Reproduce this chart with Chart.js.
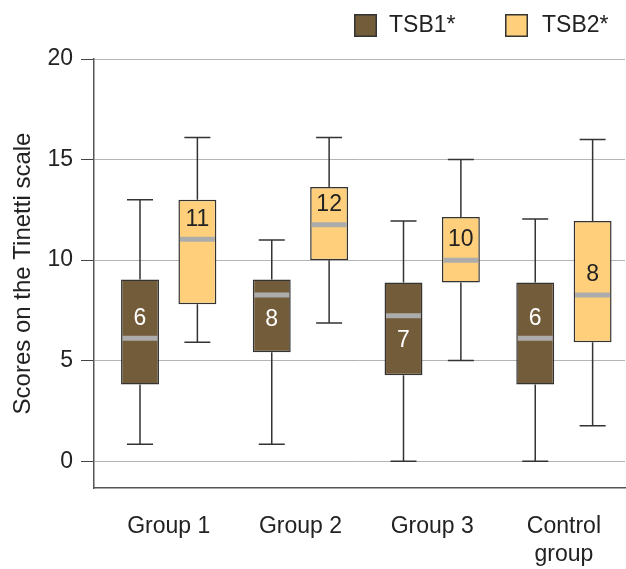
<!DOCTYPE html>
<html>
<head>
<meta charset="utf-8">
<script src="https://cdn.jsdelivr.net/npm/chart.js@4/dist/chart.umd.min.js"></script>
<style>
  html, body { margin: 0; padding: 0; background: #ffffff; }
  #wrap { width: 626px; height: 569px; position: relative; }
</style>
</head>
<body>
<div id="wrap"><canvas id="chart" width="626" height="569"></canvas></div>
<script>
// Groups on the x axis
const categories = [['Group 1'], ['Group 2'], ['Group 3'], ['Control', 'group']];

// Five-number summaries of the Tinetti scores, per group
const tsb1Min    = [0.85, 0.85, 0.0, 0.0];
const tsb1Q1     = [3.82, 5.42, 4.28, 3.82];
const tsb1Median = [6.12, 8.26, 7.23, 6.12];
const tsb1Q3     = [9.04, 9.04, 8.89, 8.89];
const tsb1Max    = [13.0, 11.0, 11.94, 12.04];
const tsb1Means  = [6, 8, 7, 6];

const tsb2Min    = [5.92, 6.88, 5.01, 1.76];
const tsb2Q1     = [7.8, 10.0, 8.89, 5.92];
const tsb2Median = [11.04, 11.76, 10.0, 8.26];
const tsb2Q3     = [13.0, 13.63, 12.15, 11.94];
const tsb2Max    = [16.1, 16.1, 15.0, 16.0];
const tsb2Means  = [11, 12, 10, 8];

const yTicks = [0, 5, 10, 15, 20];

const FONT = '"Liberation Sans", Arial, sans-serif';
const INK = '#222222';
const EDGE = '#333333';

// one floating bar per group, spanning the interquartile range
const boxes = (q1, q3) => q1.map((v, i) => ({ x: i, y: [v, q3[i]] }));

// Whiskers, caps, median bars and mean labels drawn around the floating bars
const boxPlotExtras = {
  id: 'boxPlotExtras',
  beforeDatasetsDraw(chart) {
    const ctx = chart.ctx;
    const y = chart.scales.y;
    ctx.save();
    ctx.strokeStyle = EDGE;
    ctx.lineWidth = 1.5;
    chart.data.datasets.forEach((ds, di) => {
      const meta = chart.getDatasetMeta(di);
      meta.data.forEach((bar, i) => {
        const x = bar.x;
        const yLo = y.getPixelForValue(ds.stats.min[i]);
        const yHi = y.getPixelForValue(ds.stats.max[i]);
        const yQ1 = y.getPixelForValue(ds.stats.q1[i]);
        const yQ3 = y.getPixelForValue(ds.stats.q3[i]);
        const cap = 13;
        ctx.beginPath();
        ctx.moveTo(x, yQ3); ctx.lineTo(x, yHi);
        ctx.moveTo(x, yQ1); ctx.lineTo(x, yLo);
        ctx.moveTo(x - cap, yHi); ctx.lineTo(x + cap, yHi);
        ctx.moveTo(x - cap, yLo); ctx.lineTo(x + cap, yLo);
        ctx.stroke();
      });
    });
    ctx.restore();
  },
  afterDatasetsDraw(chart) {
    const ctx = chart.ctx;
    const y = chart.scales.y;
    ctx.save();
    chart.data.datasets.forEach((ds, di) => {
      const meta = chart.getDatasetMeta(di);
      meta.data.forEach((bar, i) => {
        const half = bar.width / 2 - 1.5;
        const yMed = y.getPixelForValue(ds.stats.median[i]);
        const yQ3 = y.getPixelForValue(ds.stats.q3[i]);
        ctx.strokeStyle = '#acacac';
        ctx.lineWidth = 5;
        ctx.beginPath();
        ctx.moveTo(bar.x - half, yMed);
        ctx.lineTo(bar.x + half, yMed);
        ctx.stroke();

        // label sits above the median when there is room, otherwise below it
        const roomAbove = yMed - yQ3;
        const ly = roomAbove >= 36 ? yMed - 20 : yMed + 25;
        ctx.fillStyle = ds.labelColor;
        ctx.font = '23px ' + FONT;
        ctx.textAlign = 'center';
        ctx.textBaseline = 'middle';
        ctx.fillText(String(ds.means[i]), bar.x, ly);
      });
    });
    ctx.restore();
  },
  afterDraw(chart) {
    // legend in the top-right corner
    const ctx = chart.ctx;
    const spots = [{ box: 354, text: 389 }, { box: 505, text: 542 }];
    ctx.save();
    chart.data.datasets.forEach((ds, di) => {
      const s = spots[di];
      ctx.fillStyle = ds.backgroundColor;
      ctx.fillRect(s.box, 14, 23, 23);
      ctx.strokeStyle = EDGE;
      ctx.lineWidth = 1.5;
      ctx.strokeRect(s.box + 0.75, 14.75, 21.5, 21.5);
      ctx.fillStyle = INK;
      ctx.font = '23px ' + FONT;
      ctx.textAlign = 'left';
      ctx.textBaseline = 'middle';
      ctx.fillText(ds.label, s.text, 26);
    });
    ctx.restore();
  }
};

new Chart(document.getElementById('chart'), {
  type: 'bar',
  data: {
    datasets: [
      {
        label: 'TSB1*',
        data: boxes(tsb1Q1, tsb1Q3),
        stats: { min: tsb1Min, q1: tsb1Q1, median: tsb1Median, q3: tsb1Q3, max: tsb1Max },
        means: tsb1Means,
        labelColor: '#ffffff',
        backgroundColor: '#735c3a',
        borderColor: EDGE,
        borderWidth: 1.5,
        borderSkipped: false,
        categoryPercentage: 0.871,
        barPercentage: 0.661
      },
      {
        label: 'TSB2*',
        data: boxes(tsb2Q1, tsb2Q3),
        stats: { min: tsb2Min, q1: tsb2Q1, median: tsb2Median, q3: tsb2Q3, max: tsb2Max },
        means: tsb2Means,
        labelColor: INK,
        backgroundColor: '#ffcf7b',
        borderColor: EDGE,
        borderWidth: 1.5,
        borderSkipped: false,
        categoryPercentage: 0.871,
        barPercentage: 0.661
      }
    ]
  },
  options: {
    responsive: false,
    animation: false,
    devicePixelRatio: 1,
    layout: { padding: { top: 59, left: 0, right: 0, bottom: 0 } },
    plugins: {
      legend: { display: false },
      tooltip: { enabled: false }
    },
    scales: {
      x: {
        type: 'linear',
        offset: false,
        min: -0.567,
        max: 3.464,
        afterBuildTicks(scale) { scale.ticks = categories.map((c, i) => ({ value: i })); },
        grid: { display: false, drawTicks: false },
        border: { display: true, color: '#555555', width: 1.5 },
        ticks: {
          color: INK,
          padding: 25,
          font: { family: FONT, size: 23, lineHeight: '28px' },
          maxRotation: 0,
          autoSkip: false,
          callback: (value) => categories[value]
        },
        afterFit(scale) { scale.height = 81; }
      },
      y: {
        min: -1.33,
        max: 20,
        afterBuildTicks(scale) { scale.ticks = yTicks.map(v => ({ value: v })); },
        grid: { color: '#b4b4b4', lineWidth: 1, tickColor: '#444444', tickLength: 13 },
        border: { display: true, color: '#555555', width: 1.5 },
        ticks: {
          color: INK,
          padding: 8,
          font: { family: FONT, size: 23 }
        },
        title: {
          display: true,
          text: 'Scores on the Tinetti scale',
          color: INK,
          font: { family: FONT, size: 24, lineHeight: 1.2 },
          padding: { top: 9, bottom: 0 }
        },
        afterFit(scale) { scale.width = 94; }
      }
    }
  },
  plugins: [boxPlotExtras]
});
</script>
</body>
</html>
